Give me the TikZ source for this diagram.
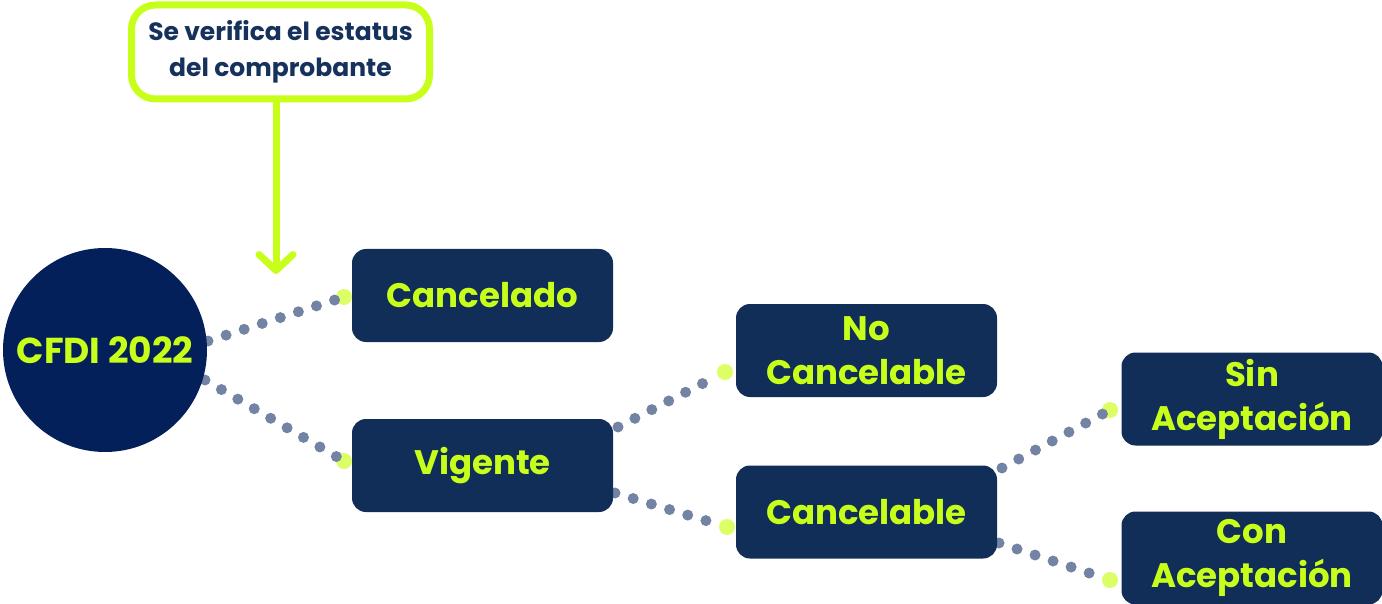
\documentclass[tikz,border=0pt]{standalone}
\usepackage{fontspec}
\setmainfont{Poppins}
\usetikzlibrary{arrows.meta}
\definecolor{navy}{HTML}{102E57}
\definecolor{deepnavy}{HTML}{03205B}
\definecolor{lime}{HTML}{C8FF1A}
\definecolor{limedot}{HTML}{DDFF66}
\definecolor{dotgray}{HTML}{7383A3}
\definecolor{txtnavy}{HTML}{16325C}
\tikzset{
  box/.style={fill=navy, rounded corners=14pt, minimum width=261pt, minimum height=93pt,
    text=lime, font=\bfseries\fontsize{34}{44}\selectfont, align=center, inner sep=0pt},
  enddot/.style={circle, fill=limedot, minimum size=16pt, inner sep=0pt},
  dots/.style={dotgray, line width=11pt, line cap=round, dash pattern=on 0pt off 19pt},
}
\begin{document}
\begin{tikzpicture}[x=1pt,y=-1pt]
\useasboundingbox (0,0) rectangle (1382,604);
% start points of connectors
\coordinate (s1) at (208,341);
\coordinate (s2) at (205,380);
\coordinate (s3) at (618,427);
\coordinate (s4) at (615,493);
\coordinate (s5) at (1002,468);
\coordinate (s6) at (999,543);
% end dots
\node[enddot] (d1) at (344,297) {};
\node[enddot] (d2) at (344,461) {};
\node[enddot] (d3) at (725,372) {};
\node[enddot] (d4) at (727,527) {};
\node[enddot] (d5) at (1110,410) {};
\node[enddot] (d6) at (1110,580) {};
\draw[dots] (s1) -- (d1);
\draw[dots] (s2) -- (d2);
\draw[dots] (s3) -- (d3);
\draw[dots] (s4) -- (d4);
\draw[dots] (s5) -- (d5);
\draw[dots] (s6) -- (d6);
% nodes
\node[circle, fill=deepnavy, minimum size=204pt, inner sep=0pt, text=lime,
  font=\bfseries\fontsize{36}{40}\selectfont] (cfdi) at (105,350) {CFDI 2022};
\node[box] (canc) at (482.5,295.5) {Cancelado};
\node[box] (vig) at (482.5,465.5) {Vigente};
\node[box] (nocanc) at (866.5,350.5) {No\\Cancelable};
\node[box] (cancel) at (866.5,512) {Cancelable};
\node[box] (sin) at (1252,399) {Sin\\Aceptación};
\node[box] (con) at (1252,558) {Con\\Aceptación};
% top box
\node[draw=lime, line width=7pt, fill=white, rounded corners=24pt, minimum width=298pt,
  minimum height=94pt, text=txtnavy, font=\bfseries\fontsize{25}{36}\selectfont, align=center,
  inner sep=0pt] (top) at (280.5,52) {Se verifica el estatus\\del comprobante};
\coordinate (tip) at (276,274);
\draw[lime, line width=7pt, line cap=round,
  -{Straight Barb[length=16pt,width=34pt,line cap=round,line join=round]}]
  (top.south -| tip) -- (tip);
\end{tikzpicture}
\end{document}
